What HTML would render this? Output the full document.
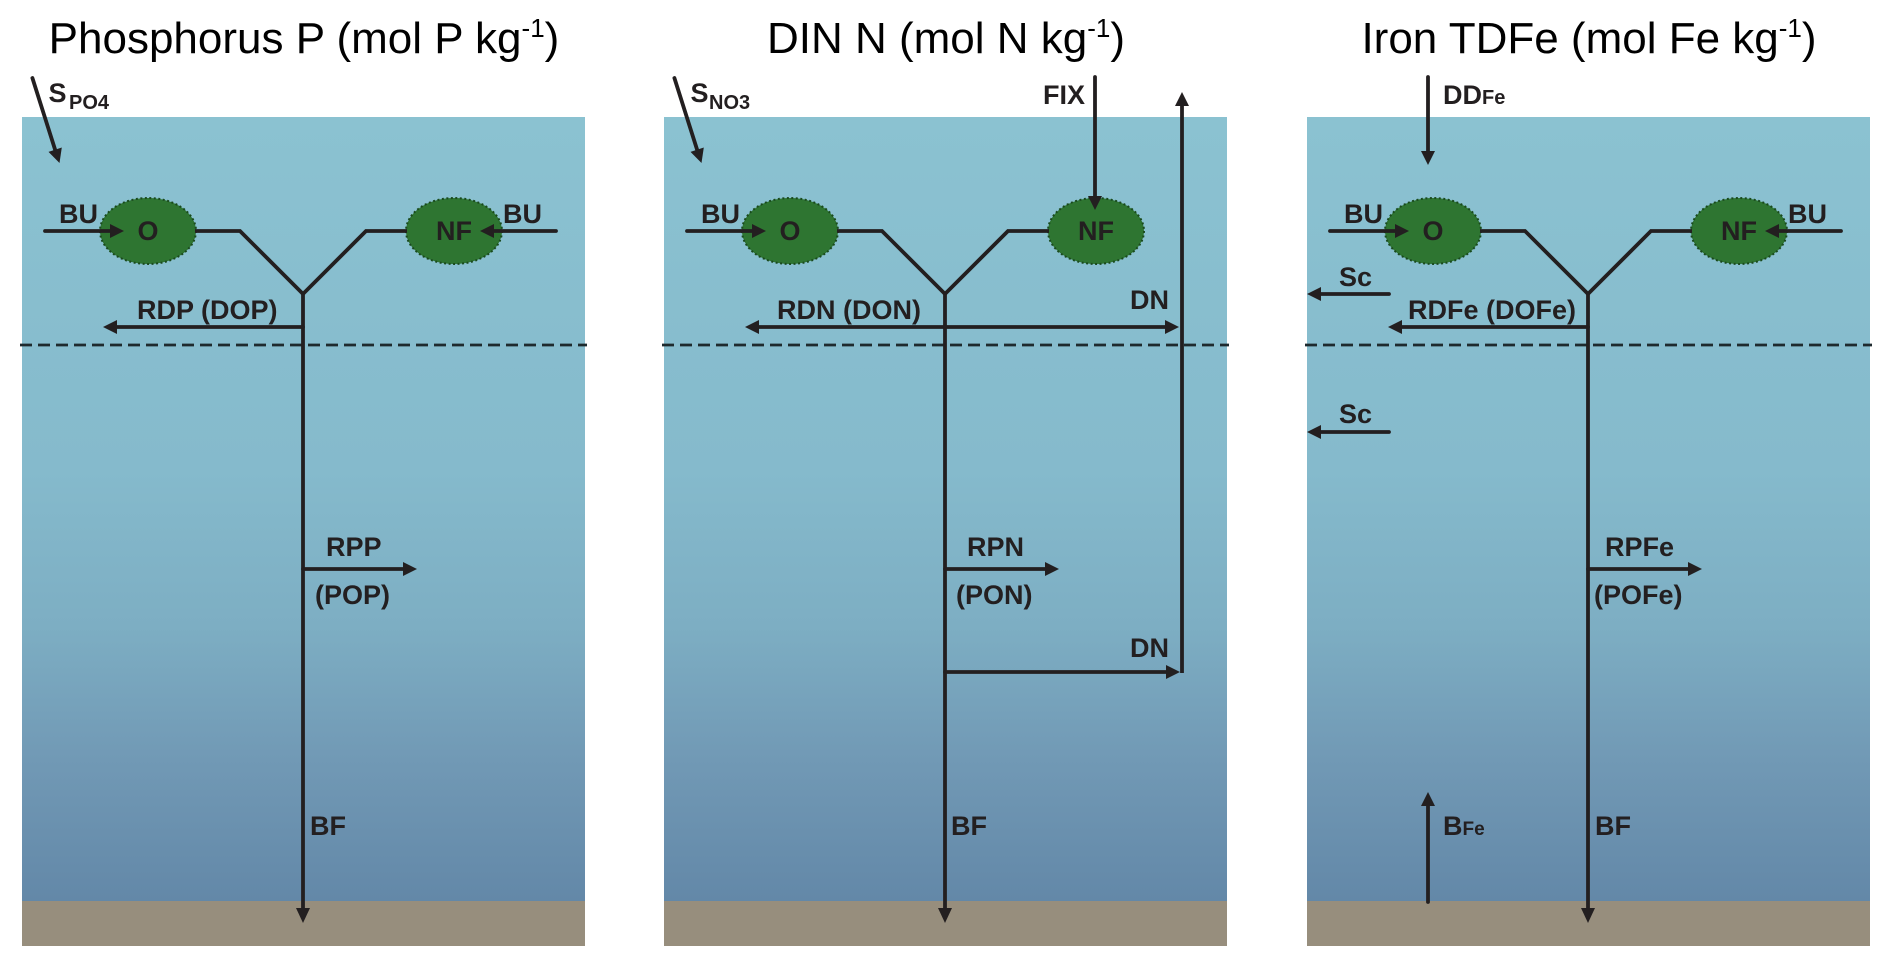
<!DOCTYPE html>
<html>
<head>
<meta charset="utf-8">
<style>
  html,body{margin:0;padding:0;background:#fff;}
  svg{display:block;}
  text{font-family:"Liberation Sans",Arial,sans-serif;}
  .t{font-size:44px;fill:#000;}
  .l{font-size:27px;font-weight:bold;fill:#231F20;}
  .s{font-size:20px;font-weight:bold;fill:#231F20;}
  .ln{stroke:#231F20;stroke-width:3.8;fill:none;stroke-linecap:round;stroke-linejoin:miter;}
  .ah{fill:#231F20;}
  .blob{fill:#2E7531;stroke:#1A4A1E;stroke-width:2;stroke-dasharray:2 2.5;}
  .dash{stroke:#1E2A2E;stroke-width:2.8;stroke-dasharray:12 6;}
</style>
</head>
<body>
<svg width="1892" height="965" viewBox="0 0 1892 965" xmlns="http://www.w3.org/2000/svg">
  <defs>
    <linearGradient id="water" x1="0" y1="0" x2="0" y2="1">
      <stop offset="0" stop-color="#8BC2D1"/>
      <stop offset="0.45" stop-color="#85BACC"/>
      <stop offset="0.65" stop-color="#7DAEC3"/>
      <stop offset="0.82" stop-color="#7199B5"/>
      <stop offset="1" stop-color="#6388A8"/>
    </linearGradient>
    <g id="common">
      <rect x="0" y="117" width="563" height="784" fill="url(#water)"/>
      <rect x="0" y="901" width="563" height="45" fill="#978E7D"/>
      <line class="dash" x1="-2" y1="345" x2="565" y2="345"/>
      <!-- blobs -->
      <ellipse class="blob" cx="126" cy="231" rx="48" ry="33"/>
      <ellipse class="blob" cx="432" cy="231" rx="48" ry="33"/>
      <!-- connector -->
      <polyline class="ln" style="stroke-linecap:butt" points="173,231 218,231 281,294 344,231 385,231"/>
      <!-- vertical to seafloor -->
      <line class="ln" x1="281" y1="294" x2="281" y2="910"/>
      <polygon class="ah" points="281,923 274,908 288,908"/>
      <!-- RD arrow -->
      <line class="ln" x1="281" y1="327" x2="93" y2="327"/>
      <polygon class="ah" points="81,327 95,320 95,334"/>
      <!-- RP arrow -->
      <line class="ln" x1="281" y1="569" x2="384" y2="569"/>
      <polygon class="ah" points="395,569 381,562 381,576"/>
      <!-- BU left arrow -->
      <line class="ln" x1="23" y1="231" x2="91" y2="231"/>
      <polygon class="ah" points="102,231 88,224 88,238"/>
      <!-- labels -->
      <text class="l" x="37" y="223">BU</text>
      <text class="l" x="126" y="240" text-anchor="middle">O</text>
      <text class="l" x="432" y="240" text-anchor="middle">NF</text>
    </g>
    <g id="buright">
      <line class="ln" x1="534" y1="231" x2="469" y2="231"/>
      <polygon class="ah" points="458,231 472,224 472,238"/>
      <text class="l" x="481" y="223">BU</text>
    </g>
    <g id="sarrow">
      <line class="ln" x1="10.4" y1="78" x2="33.2" y2="150"/>
      <polygon class="ah" points="37.5,163 39.8,147.5 26.5,151.9"/>
    </g>
  </defs>

  <!-- Panel 1: Phosphorus -->
  <g transform="translate(22,0)">
    <text class="t" x="282" y="53" text-anchor="middle">Phosphorus P (mol P kg<tspan font-size="26" dy="-16">-1</tspan><tspan dy="16">)</tspan></text>
    <use href="#common"/>
    <use href="#buright"/>
    <use href="#sarrow"/>
    <text class="l" x="26.5" y="102">S</text>
    <text class="s" x="47" y="109">PO4</text>
    <text class="l" x="115" y="319">RDP (DOP)</text>
    <text class="l" x="304" y="556">RPP</text>
    <text class="l" x="293" y="604">(POP)</text>
    <text class="l" x="288" y="835">BF</text>
  </g>

  <!-- Panel 2: DIN -->
  <g transform="translate(664,0)">
    <text class="t" x="282" y="53" text-anchor="middle">DIN N (mol N kg<tspan font-size="26" dy="-16">-1</tspan><tspan dy="16">)</tspan></text>
    <use href="#common"/>
    <use href="#sarrow"/>
    <text class="l" x="26.5" y="102">S</text>
    <text class="s" x="45" y="109">NO3</text>
    <!-- FIX -->
    <line class="ln" x1="431" y1="77" x2="431" y2="198"/>
    <polygon class="ah" points="431,210 424,196 438,196"/>
    <text class="l" x="379" y="104">FIX</text>
    <!-- right head of double RD arrow -->
    <line class="ln" x1="281" y1="327" x2="504" y2="327"/>
    <polygon class="ah" points="515,327 501,320 501,334"/>
    <!-- DN vertical up -->
    <line class="ln" x1="518" y1="673" x2="518" y2="104" style="stroke-linecap:butt"/>
    <polygon class="ah" points="518,92 511,106 525,106"/>
    <!-- DN lower arrow -->
    <line class="ln" x1="281" y1="672" x2="505" y2="672"/>
    <polygon class="ah" points="516,672 502,665 502,679"/>
    <text class="l" x="466" y="309">DN</text>
    <text class="l" x="466" y="657">DN</text>
    <text class="l" x="113" y="319">RDN (DON)</text>
    <text class="l" x="303" y="556">RPN</text>
    <text class="l" x="292" y="604">(PON)</text>
    <text class="l" x="287" y="835">BF</text>
  </g>

  <!-- Panel 3: Iron -->
  <g transform="translate(1307,0)">
    <text class="t" x="282" y="53" text-anchor="middle">Iron TDFe (mol Fe kg<tspan font-size="26" dy="-16">-1</tspan><tspan dy="16">)</tspan></text>
    <use href="#common"/>
    <use href="#buright"/>
    <!-- DD Fe -->
    <line class="ln" x1="121" y1="77" x2="121" y2="153"/>
    <polygon class="ah" points="121,165 114,151 128,151"/>
    <text class="l" x="136" y="104">DD<tspan font-size="20">Fe</tspan></text>
    <!-- Sc arrows -->
    <line class="ln" x1="82" y1="294" x2="12" y2="294"/>
    <polygon class="ah" points="0,294 14,287 14,301"/>
    <text class="l" x="32" y="286">Sc</text>
    <line class="ln" x1="82" y1="432" x2="12" y2="432"/>
    <polygon class="ah" points="0,432 14,425 14,439"/>
    <text class="l" x="32" y="423">Sc</text>
    <!-- B Fe -->
    <line class="ln" x1="121" y1="902" x2="121" y2="804"/>
    <polygon class="ah" points="121,792 114,806 128,806"/>
    <text class="l" x="136" y="835">B<tspan font-size="19">Fe</tspan></text>
    <text class="l" x="101" y="319">RDFe (DOFe)</text>
    <text class="l" x="298" y="556">RPFe</text>
    <text class="l" x="287" y="604">(POFe)</text>
    <text class="l" x="288" y="835">BF</text>
  </g>
</svg>
</body>
</html>
